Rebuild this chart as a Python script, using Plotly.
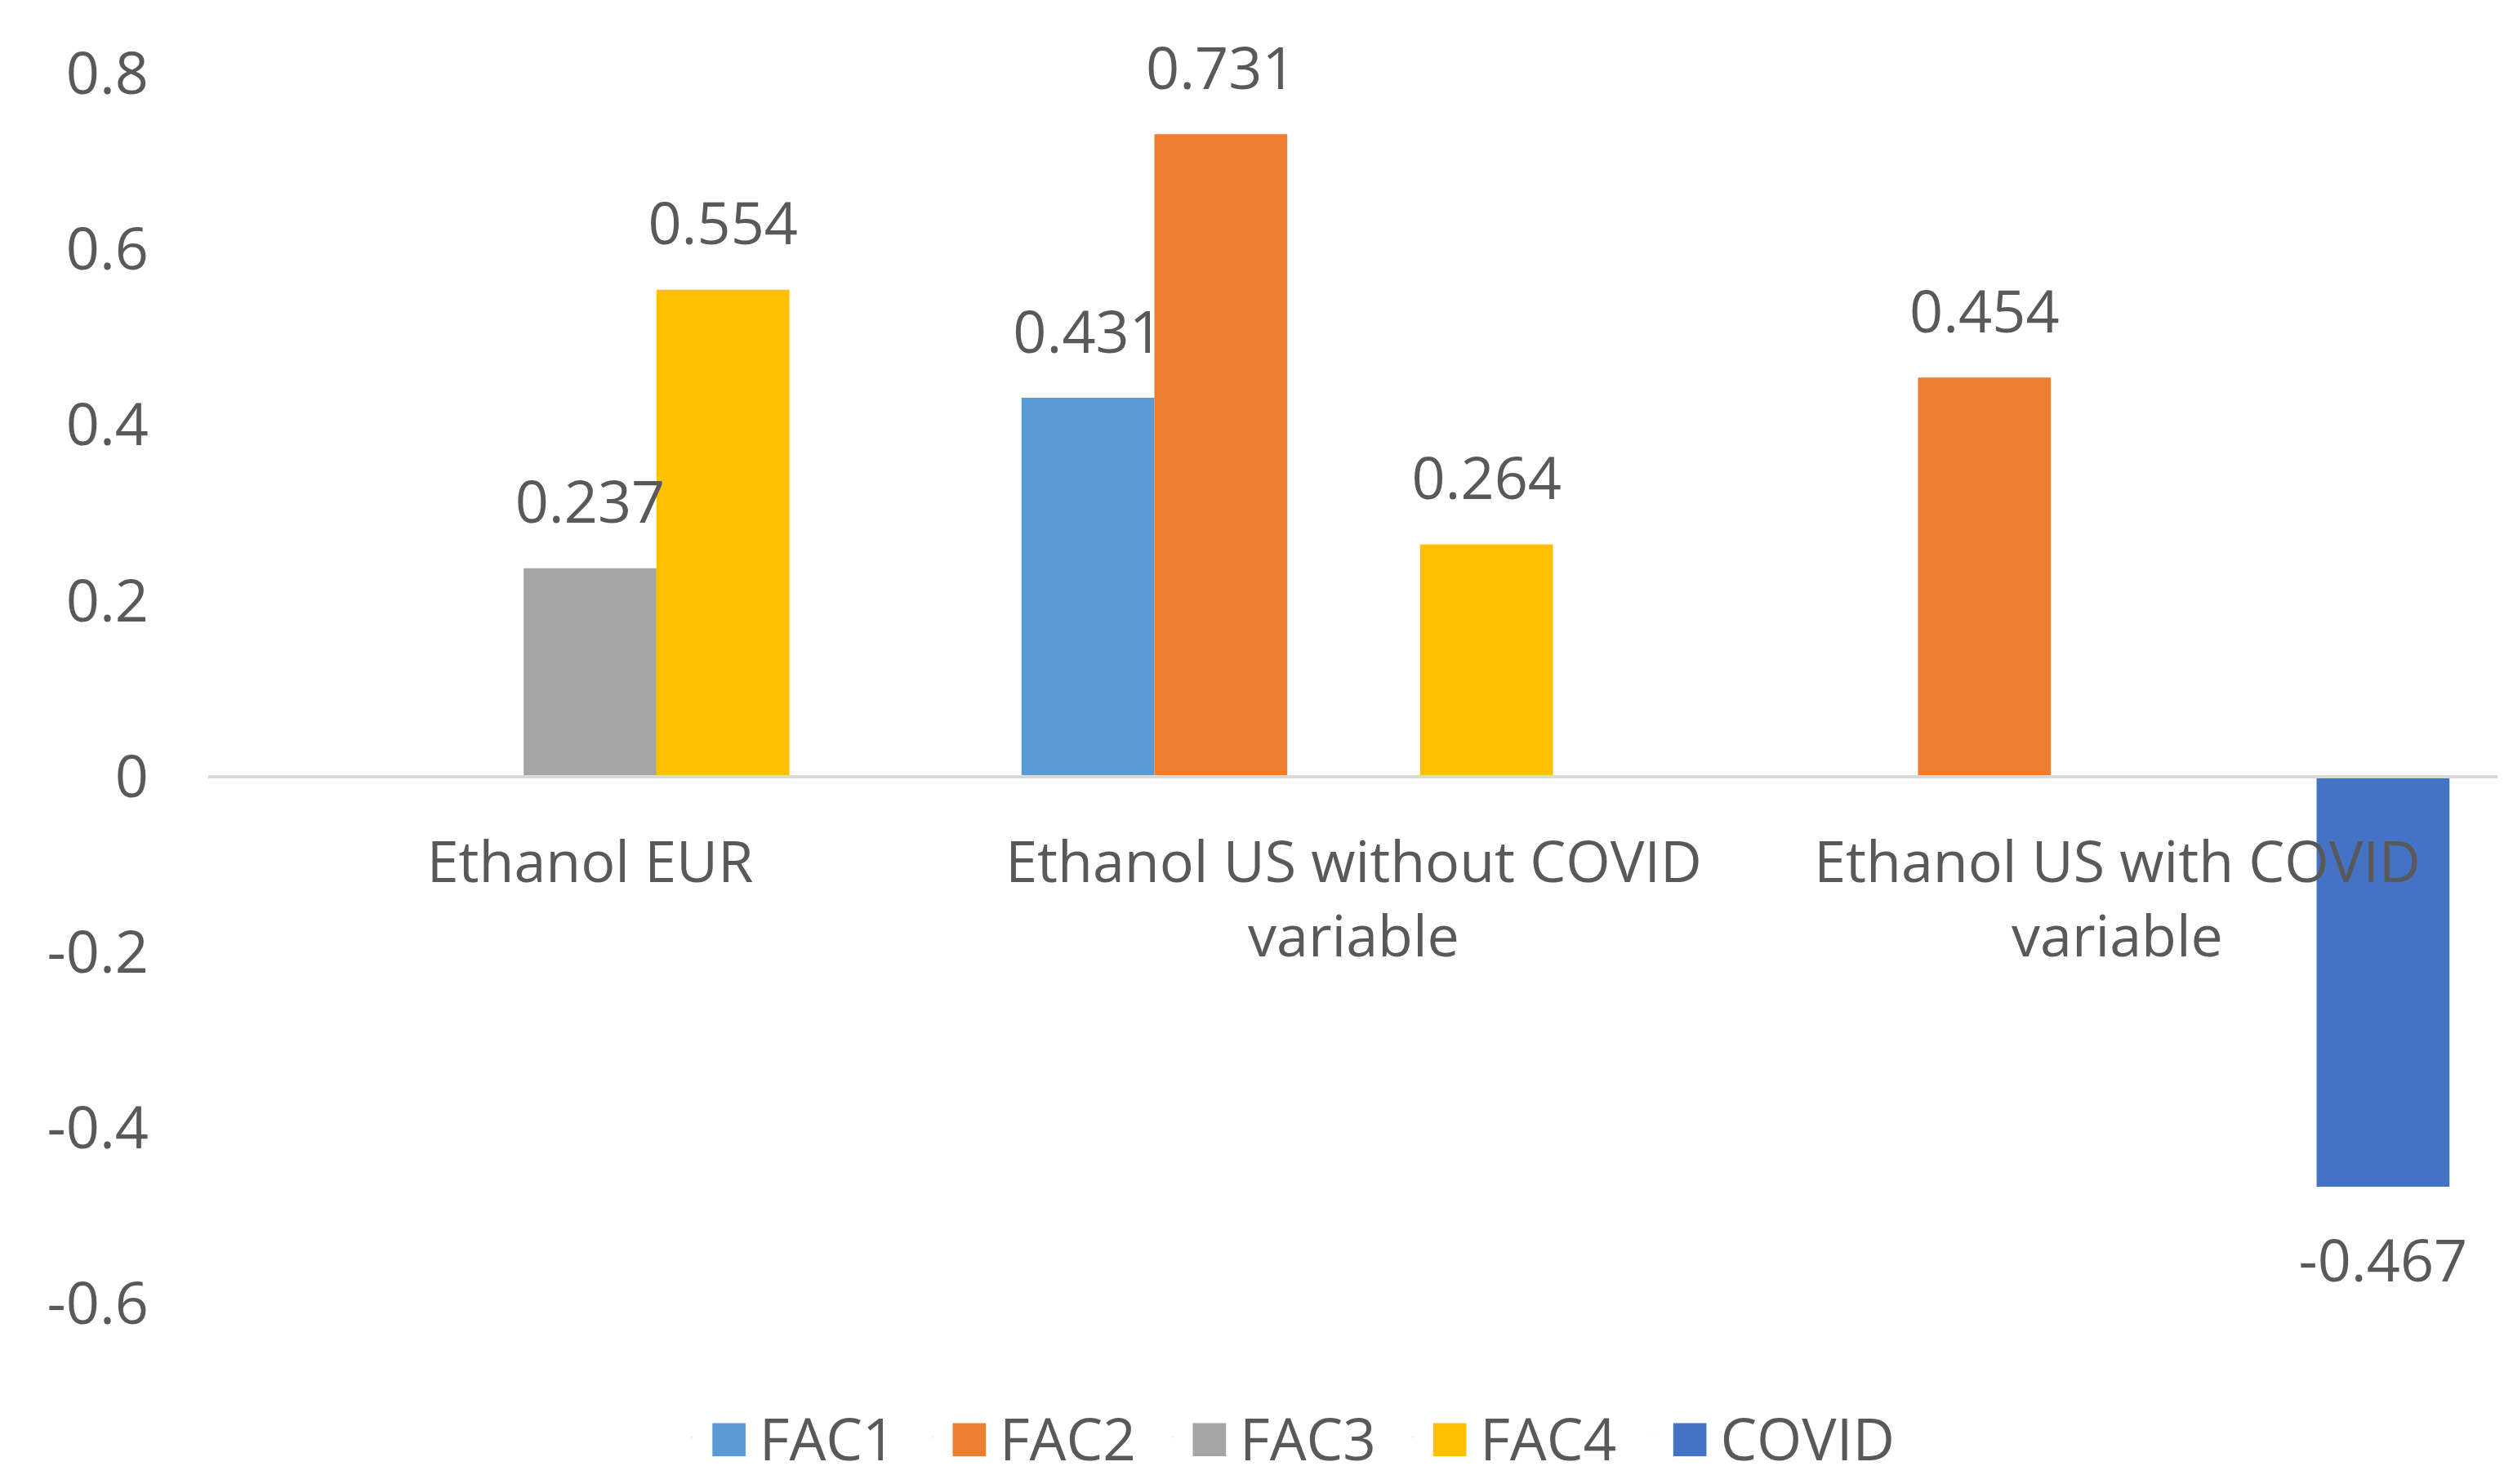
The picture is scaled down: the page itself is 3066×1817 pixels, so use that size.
import plotly.graph_objects as go

categories = ["Ethanol EUR", "Ethanol US without COVID<br>variable", "Ethanol US with COVID<br>variable"]
series_names = ["FAC1", "FAC2", "FAC3", "FAC4", "COVID"]
fac1 = [None, 0.431, None]
fac2 = [None, 0.731, 0.454]
fac3 = [0.237, None, None]
fac4 = [0.554, 0.264, None]
covid = [None, None, -0.467]
series_values = [fac1, fac2, fac3, fac4, covid]
colors = ["#5B9BD5", "#ED7D31", "#A5A5A5", "#FFC000", "#4472C4"]

y_min, y_max = -0.6, 0.8
y_tickvals = [-0.6, -0.4, -0.2, 0, 0.2, 0.4, 0.6, 0.8]
y_ticktext = ["-0.6", "-0.4", "-0.2", "0", "0.2", "0.4", "0.6", "0.8"]

FONT = "Open Sans"
TXT = "#595959"
FS_NUM = 72
FS_CAT = 70
FS_LEG = 71

fig = go.Figure()

for name, vals, col in zip(series_names, series_values, colors):
    fig.add_trace(go.Bar(
        x=categories, y=vals, name=name, marker=dict(color=col, line=dict(width=0)),
        offsetgroup=name, showlegend=False, hoverinfo="skip",
    ))

for name, vals, col in zip(series_names, series_values, colors):
    labels = [None if v is None else ("-" if v < 0 else "") + f"{abs(v):.3f}" for v in vals]
    neg = [v is not None and v < 0 for v in vals]
    pos = ["bottom center" if n else "top center" for n in neg]
    sizes = [98 if n else 58 for n in neg]
    fig.add_trace(go.Scatter(
        x=categories, y=vals, mode="markers+text", text=labels, textposition=pos,
        textfont=dict(family=FONT, size=FS_NUM, color=TXT),
        marker=dict(size=sizes, opacity=0), offsetgroup=name, cliponaxis=False,
        showlegend=False, hoverinfo="skip",
    ))

for name, col in zip(series_names, colors):
    fig.add_trace(go.Scatter(
        x=[None], y=[None], mode="markers", marker=dict(opacity=0, size=1),
        offsetgroup=name,
        name=(f'<span style="color:{col};font-size:84px">■</span>\u2009{name}'
              f'<span style="font-size:76px">\u00a0</span>'),
        showlegend=True, hoverinfo="skip",
    ))

zero_frac = (0 - y_min) / (y_max - y_min)

fig.update_layout(
    width=3066, height=1817,
    margin=dict(l=247, r=14, t=82, b=229),
    paper_bgcolor="white", plot_bgcolor="white",
    barmode="group", bargap=0.13, bargroupgap=0,
    scattermode="group", scattergap=0.13,
    font=dict(family=FONT, size=FS_CAT, color=TXT),
    showlegend=True,
    legend=dict(orientation="h", x=0.204, xanchor="left", y=-0.109, yanchor="middle",
                font=dict(family=FONT, size=FS_LEG, color=TXT), itemwidth=30,
                bgcolor="rgba(0,0,0,0)"),
    xaxis=dict(type="category", anchor="free", position=zero_frac, showline=True,
               linecolor="#D9D9D9", linewidth=4, ticks="", showgrid=False, zeroline=False,
               tickfont=dict(family=FONT, size=FS_CAT, color=TXT), ticklabelstandoff=43),
    yaxis=dict(range=[y_min, y_max], tickvals=y_tickvals, ticktext=y_ticktext,
               showgrid=False, zeroline=False, showline=False, ticks="",
               tickfont=dict(family=FONT, size=FS_NUM, color=TXT), ticklabelstandoff=72),
)

fig.write_html("out.html")
